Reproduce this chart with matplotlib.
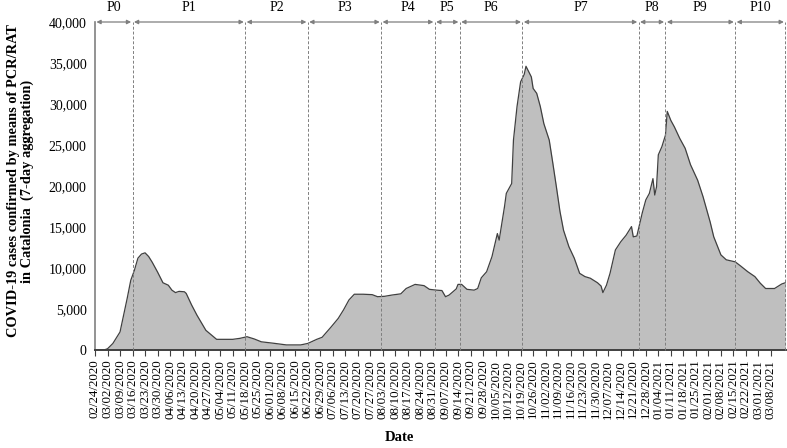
import numpy as np
import pandas as pd
import matplotlib
matplotlib.use("Agg")
import matplotlib.pyplot as plt
from matplotlib.ticker import FuncFormatter

plt.rcParams["font.family"] = ["Liberation Serif", "DejaVu Serif"]

# 7-day aggregated confirmed cases
# (days counted from 02/24/2020)
START = pd.Timestamp("2020-02-24")
DAYS = [0, 5, 7, 10, 14, 18, 20, 22, 24, 26, 28, 30, 32, 35, 38, 41, 43, 45,
        47, 50, 51, 54, 57, 62, 65, 68, 72, 77, 81, 85, 89, 93, 100, 107, 115,
        119, 124, 127, 132, 136, 139, 142, 145, 150, 155, 158, 162, 166, 171,
        174, 179, 184, 187, 191, 194, 196, 198, 202, 203, 205, 208, 212, 214,
        216, 219, 222, 225, 226, 229, 230, 233, 234, 236, 238, 240, 241, 244,
        245, 247, 249, 251, 254, 256, 258, 260, 262, 265, 268, 271, 274, 277,
        281, 283, 284, 286, 288, 291, 294, 297, 300, 301, 303, 306, 308, 310,
        312, 313, 314, 315, 317, 319, 320, 322, 324, 327, 330, 333, 337, 340,
        344, 346, 350, 353, 358, 361, 365, 369, 372, 375, 380, 384, 386]
CASES = [0, 0, 150, 800, 2200, 6300, 8500, 9700, 11200, 11700, 11850, 11400,
         10700, 9500, 8200, 7900, 7300, 7000, 7150, 7100, 6900, 5500, 4250,
         2400, 1850, 1300, 1300, 1300, 1420, 1620, 1350, 1000, 820, 620, 620,
         800, 1300, 1550, 2800, 3850, 4900, 6100, 6800, 6800, 6750, 6500, 6550,
         6700, 6850, 7500, 8000, 7850, 7400, 7300, 7250, 6500, 6700, 7450,
         8000, 8000, 7400, 7300, 7500, 8800, 9550, 11400, 14200, 13400, 17500,
         19100, 20300, 25600, 29700, 32700, 33600, 34600, 33300, 31900, 31300,
         29700, 27600, 25600, 22800, 19900, 16900, 14600, 12600, 11200, 9350,
         8950, 8750, 8200, 7800, 7000, 7900, 9350, 12200, 13200, 14000, 15050,
         13800, 13900, 16700, 18300, 19100, 20900, 18900, 19900, 23800, 24800,
         26200, 29100, 28000, 27200, 25800, 24600, 22600, 20700, 18700, 15600,
         13800, 11600, 11000, 10750, 10250, 9550, 8950, 8150, 7500, 7500, 8050,
         8200]

# period boundaries (days from start) and labels
PERIOD_BOUNDS = [0, 21, 84, 119, 160, 190, 204, 239, 304, 319, 358, 386]
PERIOD_LABELS = ["P0", "P1", "P2", "P3", "P4", "P5", "P6", "P7", "P8", "P9", "P10"]

dates = START + pd.to_timedelta(DAYS, unit="D")
bounds = START + pd.to_timedelta(PERIOD_BOUNDS, unit="D")
tick_dates = pd.date_range("2020-02-24", "2021-03-08", freq="7D")

W, H = 787, 448
fig = plt.figure(figsize=(W / 100, H / 100), dpi=100)
ax = fig.add_axes([95 / W, 98 / H, 691 / W, 328 / H])

ax.fill_between(dates, CASES, 0, color="#bfbfbf", lw=0, zorder=1)
ax.plot(dates, CASES, color="#404040", lw=0.9, zorder=2)

ymax = 40000
for b in bounds[1:]:
    ax.plot([b, b], [0, ymax], color="#7f7f7f", lw=0.7, ls=(0, (3, 2)),
            zorder=3, clip_on=False)

for i, lab in enumerate(PERIOD_LABELS):
    a, b = bounds[i], bounds[i + 1]
    ax.annotate("", xy=(b, ymax), xytext=(a, ymax),
                arrowprops=dict(arrowstyle="<|-|>", color="#7f7f7f", lw=0.9,
                                mutation_scale=6, shrinkA=1, shrinkB=1),
                annotation_clip=False)
    mid = a + (b - a) / 2
    ax.text(mid, ymax + 1800, lab, ha="center", va="center", fontsize=10)

ax.set_xlim(START, START + pd.Timedelta(days=386.4))
ax.set_ylim(0, ymax)
ax.set_yticks(np.arange(0, 40001, 5000))
ax.yaxis.set_major_formatter(FuncFormatter(lambda v, p: f"{int(v):,}"))
ax.set_xticks(tick_dates)
ax.set_xticklabels([d.strftime("%m/%d/%Y") for d in tick_dates],
                   rotation=90, fontsize=9.3)
ax.tick_params(axis="y", length=0, labelsize=10, pad=6)
ax.tick_params(axis="x", length=4, width=0.8, color="#404040", pad=3)

for s in ["top", "right"]:
    ax.spines[s].set_visible(False)
ax.spines["left"].set_color("#808080")
ax.spines["left"].set_linewidth(1.2)
ax.spines["bottom"].set_color("#404040")
ax.spines["bottom"].set_linewidth(1.4)

fig.text(21 / W, 1 - 181 / H,
         "COVID-19 cases confirmed by means of PCR/RAT\n"
         "in Catalonia  (7-day aggregation)",
         rotation=90, ha="center", va="center", multialignment="center",
         fontsize=10.4, fontweight="bold", linespacing=1.05)
fig.text(399 / W, 1 - 437 / H, "Date", ha="center", va="center",
         fontsize=10.5, fontweight="bold")

fig.savefig("out.png", dpi=100)
